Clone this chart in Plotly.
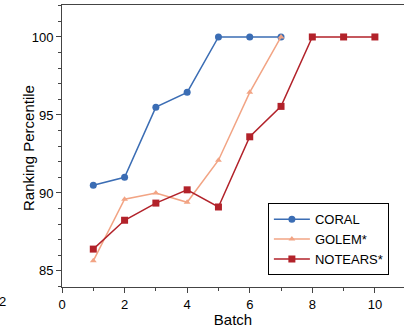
import plotly.graph_objects as go

batches_coral = [1, 2, 3, 4, 5, 6, 7]
coral = [90.5, 91.0, 95.5, 96.45, 100, 100, 100]
batches_golem = [1, 2, 3, 4, 5, 6, 7]
golem = [85.65, 89.6, 90.0, 89.4, 92.1, 96.45, 100]
batches_notears = [1, 2, 3, 4, 5, 6, 7, 8, 9, 10]
notears = [86.4, 88.25, 89.35, 90.2, 89.1, 93.6, 95.55, 100, 100, 100]

font = "Liberation Sans, Arial, Helvetica, sans-serif"
fig = go.Figure()
fig.add_trace(go.Scatter(x=batches_coral, y=coral, mode="lines+markers", name="CORAL",
                         line=dict(color="#3b6db4", width=1.5),
                         marker=dict(symbol="circle", size=7, color="#3b6db4")))
fig.add_trace(go.Scatter(x=batches_golem, y=golem, mode="lines+markers", name="GOLEM*",
                         line=dict(color="#f2a484", width=1.5),
                         marker=dict(symbol="triangle-up", size=6, color="#f2a484")))
fig.add_trace(go.Scatter(x=batches_notears, y=notears, mode="lines+markers", name="NOTEARS*",
                         line=dict(color="#b2222a", width=1.5),
                         marker=dict(symbol="square", size=7, color="#b2222a")))

fig.update_layout(
    width=404, height=328,
    margin=dict(l=62, r=0, t=5, b=41),
    paper_bgcolor="white", plot_bgcolor="white",
    font=dict(family=font, size=13, color="black"),
    showlegend=True,
    legend=dict(x=0.602, y=0.297, xanchor="left", yanchor="top",
                bordercolor="black", borderwidth=1, bgcolor="white",
                font=dict(size=13), itemwidth=36, tracegroupgap=0),
    xaxis=dict(range=[0, 10.93], tickvals=[0, 2, 4, 6, 8, 10], showgrid=False, zeroline=False,
               showline=True, linecolor="#444", linewidth=1, mirror=True,
               ticks="outside", ticklen=5, tickcolor="#444",
               minor=dict(tickvals=[1, 3, 5, 7, 9], ticks="outside", ticklen=3, tickcolor="#444"),
               title=dict(text="Batch", standoff=1, font=dict(size=15)), tickfont=dict(size=13)),
    yaxis=dict(range=[83.97, 102.05], tickvals=[85, 90, 95, 100], showgrid=False, zeroline=False,
               showline=True, linecolor="#444", linewidth=1,
               ticks="outside", ticklen=5, tickcolor="#444",
               minor=dict(tickvals=[84, 86, 87, 88, 89, 91, 92, 93, 94, 96, 97, 98, 99, 101, 102],
                          ticks="outside", ticklen=3, tickcolor="#444"),
               tickfont=dict(size=13)),
)
fig.add_annotation(text="Ranking Percentile", xref="paper", yref="paper", x=(28 - 62) / 342,
                   y=(287 - 148) / 282, textangle=-90, xanchor="center", yanchor="middle",
                   showarrow=False, font=dict(size=15, color="black"))
fig.add_annotation(text="2", xref="paper", yref="paper", x=-62/342, y=-0.05,
                   xanchor="left", yanchor="middle", showarrow=False, xshift=-3,
                   font=dict(size=13, color="black"))
fig.write_html("out.html")
